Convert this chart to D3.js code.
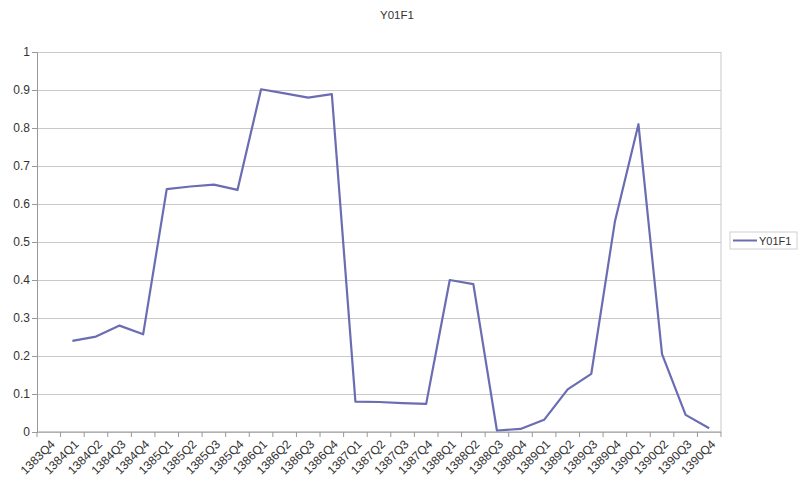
<!DOCTYPE html>
<head>
<meta charset="utf-8">
<style type="text/css">
body { margin: 0; background: #fff; }
text { font-family: "Liberation Sans", Arial, sans-serif; fill: #333; }
.grid line { stroke: #c9c9c9; }
.grid path { display: none; }
</style>
</head>
<body>
<script src="https://d3js.org/d3.v7.min.js"></script>
<script type="text/javascript">
  var quarters = ['1383Q4', '1384Q1', '1384Q2', '1384Q3', '1384Q4',
                  '1385Q1', '1385Q2', '1385Q3', '1385Q4',
                  '1386Q1', '1386Q2', '1386Q3', '1386Q4',
                  '1387Q1', '1387Q2', '1387Q3', '1387Q4',
                  '1388Q1', '1388Q2', '1388Q3', '1388Q4',
                  '1389Q1', '1389Q2', '1389Q3', '1389Q4',
                  '1390Q1', '1390Q2', '1390Q3', '1390Q4'];
  var y01f1 = [null, 0.24, 0.251, 0.28, 0.257,
               0.639, 0.646, 0.651, 0.637,
               0.902, 0.891, 0.88, 0.889,
               0.08, 0.079, 0.076, 0.074,
               0.40, 0.389, 0.004, 0.008,
               0.032, 0.112, 0.153, 0.553,
               0.81, 0.205, 0.045, 0.01];
  var yTicks = [0, 0.1, 0.2, 0.3, 0.4, 0.5, 0.6, 0.7, 0.8, 0.9, 1];

  var W = 798, H = 477;
  var pLeft = 37, pRight = 721, pTop = 52, pBottom = 432;

  var svg = d3.select('body').append('svg')
          .attr('width', W)
          .attr('height', H);

  var x = d3.scaleBand().domain(quarters).range([pLeft, pRight]);
  var y = d3.scaleLinear().domain([0, 1]).range([pBottom, pTop]);

  // gridlines
  svg.append('g')
          .attr('class', 'grid')
          .attr('transform', 'translate(' + pLeft + ',0)')
          .call(d3.axisLeft(y).tickValues(yTicks).tickSize(-(pRight - pLeft)).tickFormat(''));

  // plot border on the right
  svg.append('line')
          .attr('x1', pRight).attr('x2', pRight)
          .attr('y1', pTop).attr('y2', pBottom)
          .attr('stroke', '#c8c8c8');

  // y axis
  var yAxis = svg.append('g')
          .attr('transform', 'translate(' + pLeft + ',0)')
          .call(d3.axisLeft(y).tickValues(yTicks).tickSize(5).tickPadding(2)
                .tickFormat(function(d){ return String(+d.toFixed(1)); }));
  yAxis.select('.domain').attr('stroke', '#999');
  yAxis.selectAll('.tick line').attr('stroke', '#999');
  yAxis.selectAll('text').style('font-size', '12px').attr('fill', '#333');

  // x axis: ticks at band boundaries, labels at band centres
  var xAxis = svg.append('g')
          .attr('transform', 'translate(0,' + pBottom + ')');
  xAxis.append('line')
          .attr('x1', pLeft).attr('x2', pRight)
          .attr('stroke', '#999');
  xAxis.selectAll('.xtick')
          .data(quarters.concat(['end']))
          .enter().append('line')
          .attr('class', 'xtick')
          .attr('x1', function(d, i){ return pLeft + i * x.step(); })
          .attr('x2', function(d, i){ return pLeft + i * x.step(); })
          .attr('y1', 0).attr('y2', 5)
          .attr('stroke', '#999');
  xAxis.selectAll('.xlabel')
          .data(quarters)
          .enter().append('text')
          .attr('class', 'xlabel')
          .attr('transform', function(d){
              return 'translate(' + (x(d) + x.bandwidth() / 2 + 4) + ',10) rotate(-45)';
          })
          .attr('text-anchor', 'end')
          .attr('dy', '0.35em')
          .style('font-size', '12px')
          .text(function(d){ return d; });

  // series line
  var line = d3.line()
          .defined(function(d){ return d != null; })
          .x(function(d, i){ return x(quarters[i]) + x.bandwidth() / 2; })
          .y(function(d){ return y(d); });

  svg.append('path')
          .datum(y01f1)
          .attr('fill', 'none')
          .attr('stroke', '#6a6db2')
          .attr('stroke-width', 2.2)
          .attr('stroke-linejoin', 'round')
          .attr('d', line);

  // title
  svg.append('text')
          .attr('x', 397)
          .attr('y', 19)
          .attr('text-anchor', 'middle')
          .style('font-size', '11.5px')
          .text('Y01F1');

  // legend
  var legend = svg.append('g');
  legend.append('rect')
          .attr('x', 730).attr('y', 232)
          .attr('width', 67).attr('height', 17)
          .attr('fill', '#fff')
          .attr('stroke', '#d0d0d0');
  legend.append('line')
          .attr('x1', 733).attr('x2', 757)
          .attr('y1', 240.5).attr('y2', 240.5)
          .attr('stroke', '#6a6db2')
          .attr('stroke-width', 2);
  legend.append('text')
          .attr('x', 759).attr('y', 244.5)
          .style('font-size', '11px')
          .text('Y01F1');
</script>
</body>
